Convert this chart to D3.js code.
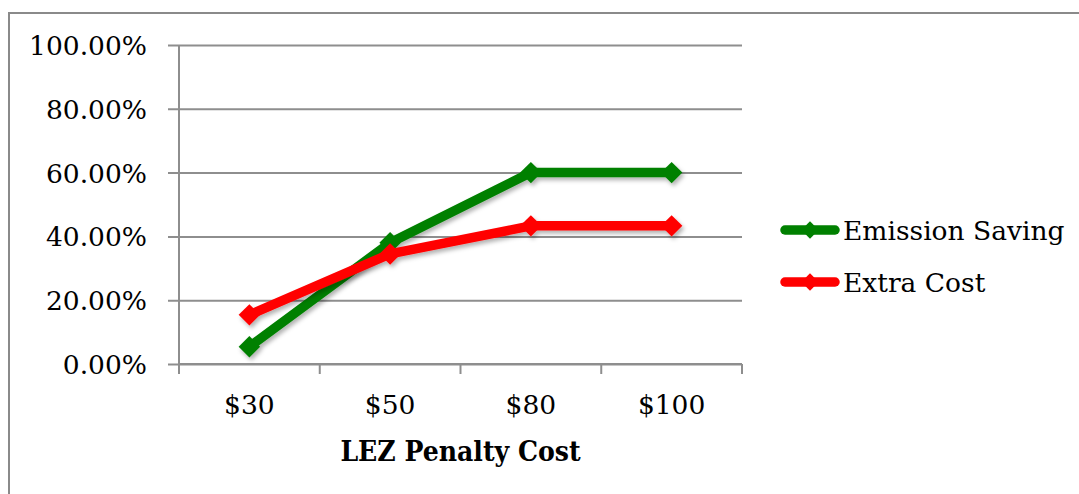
<!DOCTYPE html>
<html>
<head>
<meta charset="utf-8">
<script src="https://cdn.jsdelivr.net/npm/d3@7"></script>
<style>
  body { margin: 0; background: #fff; }
  svg text { font-family: "DejaVu Serif", serif; fill: #000; }
</style>
</head>
<body>
<div id="chart"></div>
<script>
var categories = ['$30', '$50', '$80', '$100'];
var emissionSaving = [0.054, 0.38, 0.60, 0.60];
var extraCost = [0.154, 0.345, 0.433, 0.433];
var seriesNames = ['Emission Saving', 'Extra Cost'];
var yTicks = [0, 0.2, 0.4, 0.6, 0.8, 1.0];

var width = 1079,
	height = 494,
	plotLeft = 179,
	plotRight = 742,
	plotTop = 45,
	plotBottom = 364;

var colors = ['#008000', '#ff0000'];

var series = [
	{name: seriesNames[0], values: emissionSaving, color: colors[0]},
	{name: seriesNames[1], values: extraCost, color: colors[1]}
];

var svg = d3.select('#chart').append('svg')
	.attr('width', width)
	.attr('height', height);

// drop shadow like the office chart
var defs = svg.append('defs');
var f = defs.append('filter').attr('id', 'shadow')
	.attr('x', '-20%').attr('y', '-20%').attr('width', '140%').attr('height', '140%');
f.append('feDropShadow')
	.attr('dx', 2).attr('dy', 3).attr('stdDeviation', 2)
	.attr('flood-color', '#000').attr('flood-opacity', 0.3);

// outer frame
svg.append('rect')
	.attr('x', 9).attr('y', 13)
	.attr('width', width).attr('height', height)
	.attr('fill', 'none')
	.attr('stroke', '#8a8a8a')
	.attr('stroke-width', 2);

var x = d3.scaleBand()
	.domain(categories)
	.range([plotLeft, plotRight])
	.paddingInner(0)
	.paddingOuter(0);

var y = d3.scaleLinear()
	.domain([0, 1])
	.range([plotBottom, plotTop]);

// gridlines + y labels
var yAxis = d3.axisLeft(y)
	.tickValues(yTicks)
	.tickSize(-(plotRight - plotLeft))
	.tickFormat(function (d) { return (d * 100).toFixed(2) + '%'; });

var gy = svg.append('g')
	.attr('transform', 'translate(' + plotLeft + ',0)')
	.call(yAxis);
gy.select('.domain').remove();
gy.selectAll('.tick line')
	.attr('x1', -11)
	.attr('stroke', '#8e8e8e')
	.attr('stroke-width', 2);
gy.selectAll('.tick text')
	.attr('font-size', 26.5)
	.attr('font-family', '"DejaVu Serif", serif')
	.attr('x', -32)
	.attr('dy', '0.36em');

// y axis line
svg.append('line')
	.attr('x1', plotLeft).attr('x2', plotLeft)
	.attr('y1', plotTop).attr('y2', plotBottom)
	.attr('stroke', '#8e8e8e')
	.attr('stroke-width', 2);

// x axis
var xTickPos = categories.map(function (c) { return x(c); }).concat([plotRight]);
var gx = svg.append('g')
	.attr('transform', 'translate(0,' + plotBottom + ')');
gx.append('line')
	.attr('x1', plotLeft).attr('x2', plotRight)
	.attr('stroke', '#8e8e8e').attr('stroke-width', 2);
gx.selectAll('.xtick').data(xTickPos)
	.enter().append('line')
	.attr('x1', function (d) { return d; })
	.attr('x2', function (d) { return d; })
	.attr('y1', 0).attr('y2', 10)
	.attr('stroke', '#8e8e8e').attr('stroke-width', 2);
gx.selectAll('.xlab').data(categories)
	.enter().append('text')
	.attr('x', function (d) { return x(d) + x.bandwidth() / 2; })
	.attr('y', 50)
	.attr('text-anchor', 'middle')
	.attr('font-size', 26.5)
	.text(function (d) { return d; });

// axis title
svg.append('text')
	.attr('x', (plotLeft + plotRight) / 2)
	.attr('y', 461)
	.attr('text-anchor', 'middle')
	.attr('font-size', 28)
	.attr('font-weight', 'bold')
	.style('font-family', '"DejaVu Serif Condensed", "DejaVu Serif", serif')
	.style('font-stretch', 'condensed')
	.text('LEZ Penalty Cost');

var line = d3.line()
	.x(function (d, i) { return x(categories[i]) + x.bandwidth() / 2; })
	.y(function (d) { return y(d); });

var diamond = d3.symbol().type(d3.symbolSquare).size(230);

var sg = svg.selectAll('.series').data(series)
	.enter().append('g')
	.attr('class', 'series')
	.attr('filter', 'url(#shadow)');

sg.append('path')
	.attr('d', function (d) { return line(d.values); })
	.attr('fill', 'none')
	.attr('stroke', function (d) { return d.color; })
	.attr('stroke-width', 9.5)
	.attr('stroke-linejoin', 'round');

sg.each(function (s) {
	d3.select(this).selectAll('.pt').data(s.values)
		.enter().append('path')
		.attr('d', diamond)
		.attr('fill', s.color)
		.attr('transform', function (d, i) {
			return 'translate(' + (x(categories[i]) + x.bandwidth() / 2) + ',' + y(d) + ') rotate(45)';
		});
});

// legend
var legend = svg.selectAll('.legend').data(series)
	.enter().append('g')
	.attr('class', 'legend')
	.attr('transform', function (d, i) { return 'translate(780,' + (230 + i * 52) + ')'; });

legend.append('line')
	.attr('x1', 5).attr('x2', 55)
	.attr('stroke', function (d) { return d.color; })
	.attr('stroke-width', 9.5)
	.attr('stroke-linecap', 'round');
legend.append('path')
	.attr('d', d3.symbol().type(d3.symbolSquare).size(150))
	.attr('transform', 'translate(30,0) rotate(45)')
	.attr('fill', function (d) { return d.color; });
legend.append('text')
	.attr('x', 63)
	.attr('y', 10)
	.attr('font-size', 26.5)
	.text(function (d) { return d.name; });
</script>
</body>
</html>
